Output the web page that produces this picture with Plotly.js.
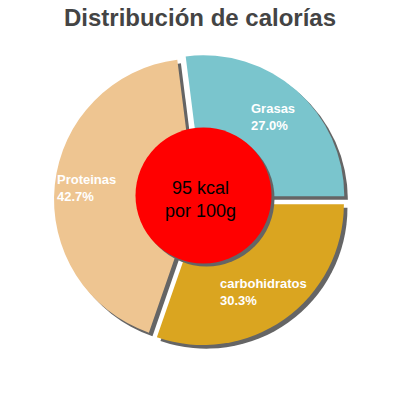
<!DOCTYPE html>
<html>
<head>
<meta charset="utf-8">
<script src="https://cdn.plot.ly/plotly-3.0.1.min.js"></script>
<style>
  html, body { margin: 0; padding: 0; background: #fff; }
  #chart { width: 400px; height: 400px; }
</style>
</head>
<body>
<div id="chart"></div>
<script>
(() => {
    // slice data, clockwise from just left of 12 o'clock
    const labels = ["Grasas", "carbohidratos", "Proteinas"];
    const values = [27.0, 30.3, 42.7];
    const colors = ["#7ac5cd", "#daa520", "#eec591"];
    const centerText = ["95 kcal", "por 100g"];
    const title = "Distribución de calorías";

    const FONT = "Liberation Sans, Arial, sans-serif";
    const PULL = 0.036;
    const startAngle = -values[0] * 3.6 + 90; // first slice ends at 3 o'clock

    // pie domain: centre (200,200) in a 400px square
    const dom = { x: [0.135, 0.865], y: [0.135, 0.865] };
    const shadowOff = 0.009;

    const pieBase = {
        type: "pie",
        labels, values,
        sort: false,
        direction: "clockwise",
        rotation: startAngle,
        pull: values.map(() => PULL),
        textinfo: "none",
        hoverinfo: "none",
        showlegend: false,
    };

    const shadow = Object.assign({}, pieBase, {
        domain: { x: [dom.x[0] + shadowOff, dom.x[1] + shadowOff], y: [dom.y[0] - shadowOff, dom.y[1] - shadowOff] },
        marker: { colors: values.map(() => "#656565"), line: { width: 0 } },
    });
    const pie = Object.assign({}, pieBase, {
        domain: dom,
        marker: { colors, line: { width: 0 } },
    });

    // pixel spots for slice labels (left edge, middle of the two lines)
    const labelPos = [[250, 117], [219, 291.5], [56, 187.5]];
    const note = (x, y, text, font, xanchor) => ({
        xref: "paper", yref: "paper", x: x / 400, y: 1 - y / 400,
        xanchor: xanchor || "left", yanchor: "middle", align: xanchor === "center" ? "center" : "left",
        showarrow: false, borderpad: 0, text, font,
    });
    const labelFont = { family: FONT, size: 13, color: "#ffffff", weight: "bold" };
    const sliceNotes = labels.map((l, i) =>
        note(labelPos[i][0], labelPos[i][1], `${l}<br>${values[i].toFixed(1)}%`, labelFont));

    const cx = 203.5, cy = 195.5, rc = 68;
    const circ = (dx, dy, color) => ({
        type: "circle", xref: "paper", yref: "paper", layer: "above",
        x0: (cx - rc + dx) / 400, x1: (cx + rc + dx) / 400,
        y0: 1 - (cy + rc + dy) / 400, y1: 1 - (cy - rc + dy) / 400,
        fillcolor: color, line: { width: 0 },
    });
    const centerFont = { family: FONT, size: 18, color: "#000000" };
    const centerNote = note(200, 199, centerText.join("<br>"), centerFont, "center");

    const layout = {
        width: 400, height: 400,
        margin: { t: 0, r: 0, b: 0, l: 0 },
        paper_bgcolor: "#ffffff",
        title: {
            text: `<b>${title}</b>`, x: 0.5, xanchor: "center",
            y: 1 - 18 / 400, yanchor: "middle", yref: "paper",
            font: { family: FONT, size: 24, color: "#444444" },
        },
        shapes: [circ(3, 3, "#656565"), circ(0, 0, "#ff0000")],
        annotations: sliceNotes.concat([centerNote]),
    };

    Plotly.newPlot("chart", [shadow, pie], layout, { displayModeBar: false, staticPlot: true });
})();
</script>
</body>
</html>
